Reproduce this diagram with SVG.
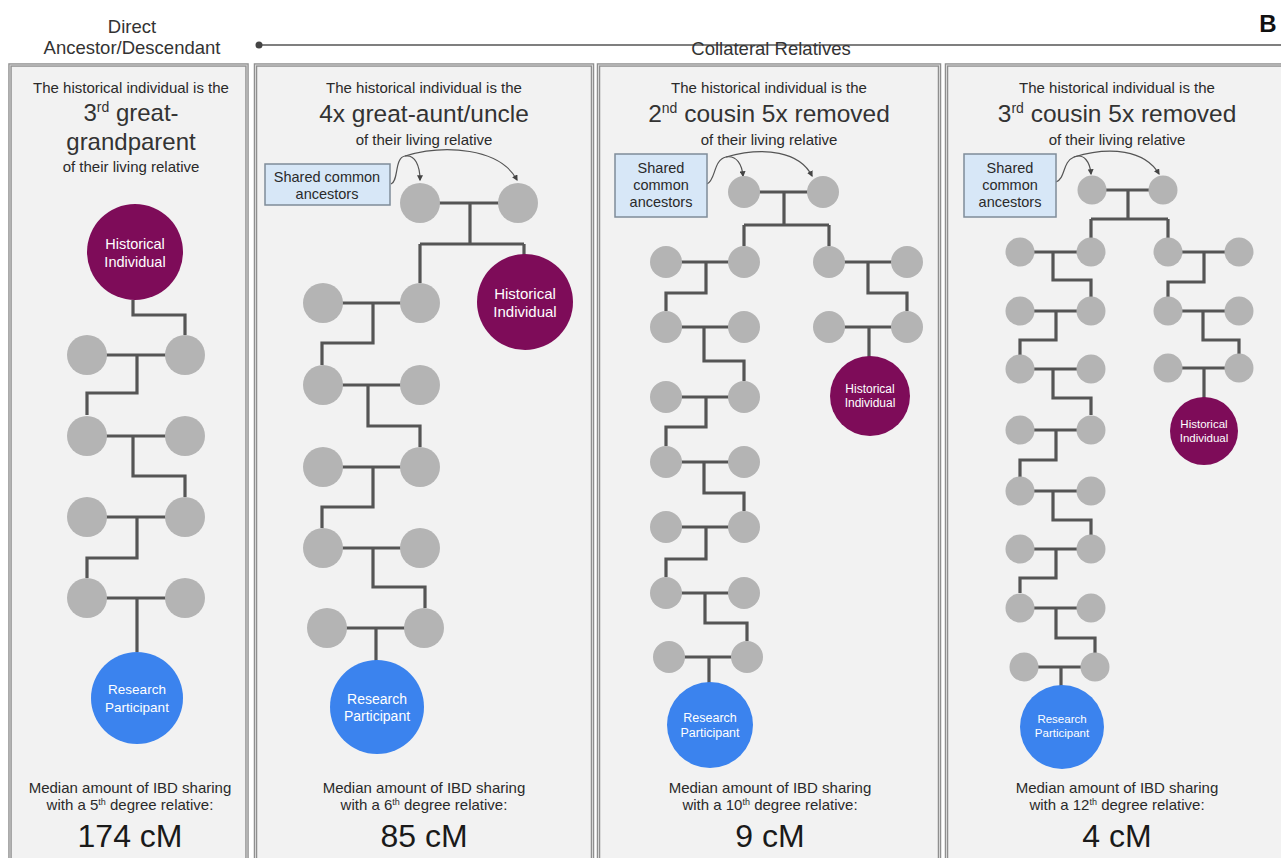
<svg xmlns="http://www.w3.org/2000/svg" width="1281" height="858" viewBox="0 0 1281 858">
<defs>
<marker id="arr" viewBox="0 0 10 10" refX="8" refY="5" markerWidth="5" markerHeight="5" orient="auto"><path d="M0,0 L10,5 L0,10 z" fill="#444"/></marker>
<style>
.panel{fill:#f2f2f2;stroke:#8f8f8f;stroke-width:3.5}
.panelin{fill:none;stroke:#d6d6d6;stroke-width:1}
.g{fill:#b4b4b4}
.hi{fill:#7e0c59}
.rp{fill:#3b83ee}
.ln{fill:none;stroke:#555;stroke-width:3.2}
.cur{fill:none;stroke:#555;stroke-width:1.2}
.box{fill:#d7e7f7;stroke:#7f8c99;stroke-width:1.5}
text{font-family:"Liberation Sans",Arial,sans-serif;fill:#2a2a2a;text-anchor:middle}
.sm{font-size:15px}
.big{font-size:24.5px;fill:#333}
.cm{font-size:32px;fill:#1a1a1a}
.hdr{font-size:18.5px;fill:#333}
.wt{fill:#fff}
</style>
</defs>
<rect width="1281" height="858" fill="#ffffff"/>

<g id="header">
<text class="hdr" x="132" y="33">Direct</text>
<text class="hdr" x="132" y="54">Ancestor/Descendant</text>
<line x1="259" y1="45" x2="1281" y2="45" stroke="#555" stroke-width="1.5"/>
<circle cx="259" cy="45" r="3.5" fill="#444"/>
<text class="hdr" x="771" y="55">Collateral Relatives</text>
<text x="1268" y="32" style="font-size:24px;font-weight:bold;fill:#111">B</text>
</g>

<g id="panels">
<rect class="panel" x="10" y="65" width="237" height="810"/>
<rect class="panelin" x="10" y="65" width="237" height="810"/>
<rect class="panel" x="255.5" y="65" width="337" height="810"/>
<rect class="panelin" x="255.5" y="65" width="337" height="810"/>
<rect class="panel" x="598.5" y="65" width="341" height="810"/>
<rect class="panelin" x="598.5" y="65" width="341" height="810"/>
<rect class="panel" x="946.5" y="65" width="350" height="810"/>
<rect class="panelin" x="946.5" y="65" width="350" height="810"/>
</g>

<g id="titles">
<text class="sm" x="131" y="93">The historical individual is the</text>
<text class="big" x="131" y="121" style="font-size:24px">3<tspan font-size="14" dy="-9">rd</tspan><tspan dy="9"> great-</tspan></text>
<text class="big" x="131" y="150" style="font-size:24px">grandparent</text>
<text class="sm" x="131" y="172">of their living relative</text>

<text class="sm" x="424" y="93">The historical individual is the</text>
<text class="big" x="424" y="122">4x great-aunt/uncle</text>
<text class="sm" x="424" y="145">of their living relative</text>

<text class="sm" x="769" y="93">The historical individual is the</text>
<text class="big" x="769" y="122">2<tspan font-size="14" dy="-9">nd</tspan><tspan dy="9"> cousin 5x removed</tspan></text>
<text class="sm" x="769" y="145">of their living relative</text>

<text class="sm" x="1117" y="93">The historical individual is the</text>
<text class="big" x="1117" y="122">3<tspan font-size="14" dy="-9">rd</tspan><tspan dy="9"> cousin 5x removed</tspan></text>
<text class="sm" x="1117" y="145">of their living relative</text>
</g>

<g id="footers">
<text class="sm" x="130" y="793">Median amount of IBD sharing</text>
<text class="sm" x="130" y="810">with a 5<tspan font-size="9" dy="-5">th</tspan><tspan dy="5"> degree relative:</tspan></text>
<text class="cm" x="130" y="847">174 cM</text>

<text class="sm" x="424" y="793">Median amount of IBD sharing</text>
<text class="sm" x="424" y="810">with a 6<tspan font-size="9" dy="-5">th</tspan><tspan dy="5"> degree relative:</tspan></text>
<text class="cm" x="424" y="847">85 cM</text>

<text class="sm" x="770" y="793">Median amount of IBD sharing</text>
<text class="sm" x="770" y="810">with a 10<tspan font-size="9" dy="-5">th</tspan><tspan dy="5"> degree relative:</tspan></text>
<text class="cm" x="770" y="847">9 cM</text>

<text class="sm" x="1117" y="793">Median amount of IBD sharing</text>
<text class="sm" x="1117" y="810">with a 12<tspan font-size="9" dy="-5">th</tspan><tspan dy="5"> degree relative:</tspan></text>
<text class="cm" x="1117" y="847">4 cM</text>
</g>

<g id="connectors">
<!-- panel 1 -->
<path class="ln" d="M133 300 V315 H185 V335"/>
<path class="ln" d="M87 355 H185 M137 355 V393 H87 V415"/>
<path class="ln" d="M87 436 H185 M133 436 V476 H185 V497"/>
<path class="ln" d="M87 517 H185 M137 517 V558 H87 V578"/>
<path class="ln" d="M87 598 H185 M137 598 V652"/>
<!-- panel 2 -->
<path class="ln" d="M420 203 H518 M470 203 V244 M420 244 H524 M420 244 V283 M524 244 V255"/>
<path class="ln" d="M323 303 H420 M373 303 V343 H322 V365"/>
<path class="ln" d="M323 385 H420 M368 385 V426 H420 V447"/>
<path class="ln" d="M323 467 H420 M373 467 V507 H322 V528"/>
<path class="ln" d="M323 548 H420 M373 548 V587 H425 V608"/>
<path class="ln" d="M327 628 H424 M376 628 V661"/>
<!-- panel 3 -->
<path class="ln" d="M744 192 H823 M784 192 V225 M744 225 H829 M744 225 V246 M829 225 V246"/>
<path class="ln" d="M666 262 H744 M706 262 V293 H666 V311"/>
<path class="ln" d="M666 327 H744 M704 327 V361 H744 V381"/>
<path class="ln" d="M666 397 H744 M706 397 V427 H666 V446"/>
<path class="ln" d="M666 462 H744 M704 462 V493 H744 V511"/>
<path class="ln" d="M666 527 H744 M706 527 V559 H666 V577"/>
<path class="ln" d="M666 593 H744 M705 593 V623 H747 V641"/>
<path class="ln" d="M669 657 H747 M709 657 V683"/>
<path class="ln" d="M829 262 H907 M868 262 V293 H907 V311"/>
<path class="ln" d="M829 327 H907 M869 327 V357"/>
<!-- panel 4 -->
<path class="ln" d="M1092 190 H1163 M1128 190 V219 M1091 219 H1168 M1091 219 V238 M1168 219 V238"/>
<path class="ln" d="M1020 252 H1091 M1053 252 V280 H1091 V297"/>
<path class="ln" d="M1020 311 H1091 M1056 311 V340 H1020 V355"/>
<path class="ln" d="M1020 369 H1091 M1053 369 V398 H1091 V415"/>
<path class="ln" d="M1020 430 H1091 M1056 430 V460 H1020 V477"/>
<path class="ln" d="M1020 491 H1091 M1053 491 V520 H1091 V535"/>
<path class="ln" d="M1020 549 H1091 M1056 549 V578 H1020 V593"/>
<path class="ln" d="M1020 608 H1091 M1056 608 V638 H1095 V653"/>
<path class="ln" d="M1024 667 H1095 M1061 667 V686"/>
<path class="ln" d="M1168 252 H1239 M1204 252 V282 H1168 V297"/>
<path class="ln" d="M1168 311 H1239 M1203 311 V340 H1239 V354"/>
<path class="ln" d="M1168 368 H1239 M1204 368 V398"/>
<!-- curved arrows -->
<path class="cur" d="M391 184 C399 181 394 158 405 156 C415 154 420 166 420 180" marker-end="url(#arr)"/>
<path class="cur" d="M405 156 C445 144 500 148 517 180" marker-end="url(#arr)"/>
<path class="cur" d="M707 184 C716 180 713 160 726 157 C737 155 742 165 743 176" marker-end="url(#arr)"/>
<path class="cur" d="M726 157 C765 146 800 152 812 176" marker-end="url(#arr)"/>
<path class="cur" d="M1056 182 C1066 178 1062 162 1074 157 C1084 153 1090 162 1091 174" marker-end="url(#arr)"/>
<path class="cur" d="M1074 157 C1110 146 1145 150 1159 174" marker-end="url(#arr)"/>
</g>

<g id="p1-nodes">
<g id="p1-historical"><circle class="hi" cx="135" cy="252" r="48"/><text class="wt" x="135" y="249" font-size="14.5">Historical</text><text class="wt" x="135" y="267" font-size="14.5">Individual</text></g>
<g id="p1-r1a"><circle class="g" cx="87" cy="355" r="20"/></g>
<g id="p1-r1b"><circle class="g" cx="185" cy="355" r="20"/></g>
<g id="p1-r2a"><circle class="g" cx="87" cy="436" r="20"/></g>
<g id="p1-r2b"><circle class="g" cx="185" cy="436" r="20"/></g>
<g id="p1-r3a"><circle class="g" cx="87" cy="517" r="20"/></g>
<g id="p1-r3b"><circle class="g" cx="185" cy="517" r="20"/></g>
<g id="p1-r4a"><circle class="g" cx="87" cy="598" r="20"/></g>
<g id="p1-r4b"><circle class="g" cx="185" cy="598" r="20"/></g>
<g id="p1-participant"><circle class="rp" cx="137" cy="698" r="46"/><text class="wt" x="137" y="694" font-size="13.5">Research</text><text class="wt" x="137" y="712" font-size="13.5">Participant</text></g>
</g>

<g id="p2-nodes">
<g id="p2-shared"><rect class="box" x="265" y="164" width="125" height="41"/><text x="327" y="182" font-size="14.5">Shared common</text><text x="327" y="199" font-size="14.5">ancestors</text></g>
<g id="p2-a1"><circle class="g" cx="420" cy="203" r="20"/></g>
<g id="p2-a2"><circle class="g" cx="518" cy="203" r="20"/></g>
<g id="p2-historical"><circle class="hi" cx="525" cy="302" r="48"/><text class="wt" x="525" y="299" font-size="15">Historical</text><text class="wt" x="525" y="317" font-size="15">Individual</text></g>
<g id="p2-r1a"><circle class="g" cx="323" cy="303" r="20"/></g>
<g id="p2-r1b"><circle class="g" cx="420" cy="303" r="20"/></g>
<g id="p2-r2a"><circle class="g" cx="323" cy="385" r="20"/></g>
<g id="p2-r2b"><circle class="g" cx="420" cy="385" r="20"/></g>
<g id="p2-r3a"><circle class="g" cx="323" cy="467" r="20"/></g>
<g id="p2-r3b"><circle class="g" cx="420" cy="467" r="20"/></g>
<g id="p2-r4a"><circle class="g" cx="323" cy="548" r="20"/></g>
<g id="p2-r4b"><circle class="g" cx="420" cy="548" r="20"/></g>
<g id="p2-r5a"><circle class="g" cx="327" cy="628" r="20"/></g>
<g id="p2-r5b"><circle class="g" cx="424" cy="628" r="20"/></g>
<g id="p2-participant"><circle class="rp" cx="377" cy="707" r="47"/><text class="wt" x="377" y="704" font-size="14">Research</text><text class="wt" x="377" y="721" font-size="14">Participant</text></g>
</g>

<g id="p3-nodes">
<g id="p3-shared"><rect class="box" x="615" y="154" width="92" height="63"/><text x="661" y="173" font-size="14.5">Shared</text><text x="661" y="190" font-size="14.5">common</text><text x="661" y="207" font-size="14.5">ancestors</text></g>
<g id="p3-a1"><circle class="g" cx="744" cy="192" r="16"/></g>
<g id="p3-a2"><circle class="g" cx="823" cy="192" r="16"/></g>
<g id="p3-l1a"><circle class="g" cx="666" cy="262" r="16"/></g>
<g id="p3-l1b"><circle class="g" cx="744" cy="262" r="16"/></g>
<g id="p3-l2a"><circle class="g" cx="666" cy="327" r="16"/></g>
<g id="p3-l2b"><circle class="g" cx="744" cy="327" r="16"/></g>
<g id="p3-l3a"><circle class="g" cx="666" cy="397" r="16"/></g>
<g id="p3-l3b"><circle class="g" cx="744" cy="397" r="16"/></g>
<g id="p3-l4a"><circle class="g" cx="666" cy="462" r="16"/></g>
<g id="p3-l4b"><circle class="g" cx="744" cy="462" r="16"/></g>
<g id="p3-l5a"><circle class="g" cx="666" cy="527" r="16"/></g>
<g id="p3-l5b"><circle class="g" cx="744" cy="527" r="16"/></g>
<g id="p3-l6a"><circle class="g" cx="666" cy="593" r="16"/></g>
<g id="p3-l6b"><circle class="g" cx="744" cy="593" r="16"/></g>
<g id="p3-l7a"><circle class="g" cx="669" cy="657" r="16"/></g>
<g id="p3-l7b"><circle class="g" cx="747" cy="657" r="16"/></g>
<g id="p3-r1a"><circle class="g" cx="829" cy="262" r="16"/></g>
<g id="p3-r1b"><circle class="g" cx="907" cy="262" r="16"/></g>
<g id="p3-r2a"><circle class="g" cx="829" cy="327" r="16"/></g>
<g id="p3-r2b"><circle class="g" cx="907" cy="327" r="16"/></g>
<g id="p3-historical"><circle class="hi" cx="870" cy="396" r="40"/><text class="wt" x="870" y="393" font-size="12">Historical</text><text class="wt" x="870" y="407" font-size="12">Individual</text></g>
<g id="p3-participant"><circle class="rp" cx="710" cy="725" r="43"/><text class="wt" x="710" y="722" font-size="12.5">Research</text><text class="wt" x="710" y="737" font-size="12.5">Participant</text></g>
</g>

<g id="p4-nodes">
<g id="p4-shared"><rect class="box" x="964" y="154" width="92" height="63"/><text x="1010" y="173" font-size="14.5">Shared</text><text x="1010" y="190" font-size="14.5">common</text><text x="1010" y="207" font-size="14.5">ancestors</text></g>
<g id="p4-a1"><circle class="g" cx="1092" cy="190" r="14.5"/></g>
<g id="p4-a2"><circle class="g" cx="1163" cy="190" r="14.5"/></g>
<g id="p4-l1a"><circle class="g" cx="1020" cy="252" r="14.5"/></g>
<g id="p4-l1b"><circle class="g" cx="1091" cy="252" r="14.5"/></g>
<g id="p4-l2a"><circle class="g" cx="1020" cy="311" r="14.5"/></g>
<g id="p4-l2b"><circle class="g" cx="1091" cy="311" r="14.5"/></g>
<g id="p4-l3a"><circle class="g" cx="1020" cy="369" r="14.5"/></g>
<g id="p4-l3b"><circle class="g" cx="1091" cy="369" r="14.5"/></g>
<g id="p4-l4a"><circle class="g" cx="1020" cy="430" r="14.5"/></g>
<g id="p4-l4b"><circle class="g" cx="1091" cy="430" r="14.5"/></g>
<g id="p4-l5a"><circle class="g" cx="1020" cy="491" r="14.5"/></g>
<g id="p4-l5b"><circle class="g" cx="1091" cy="491" r="14.5"/></g>
<g id="p4-l6a"><circle class="g" cx="1020" cy="549" r="14.5"/></g>
<g id="p4-l6b"><circle class="g" cx="1091" cy="549" r="14.5"/></g>
<g id="p4-l7a"><circle class="g" cx="1020" cy="608" r="14.5"/></g>
<g id="p4-l7b"><circle class="g" cx="1091" cy="608" r="14.5"/></g>
<g id="p4-l8a"><circle class="g" cx="1024" cy="667" r="14.5"/></g>
<g id="p4-l8b"><circle class="g" cx="1095" cy="667" r="14.5"/></g>
<g id="p4-r1a"><circle class="g" cx="1168" cy="252" r="14.5"/></g>
<g id="p4-r1b"><circle class="g" cx="1239" cy="252" r="14.5"/></g>
<g id="p4-r2a"><circle class="g" cx="1168" cy="311" r="14.5"/></g>
<g id="p4-r2b"><circle class="g" cx="1239" cy="311" r="14.5"/></g>
<g id="p4-r3a"><circle class="g" cx="1168" cy="368" r="14.5"/></g>
<g id="p4-r3b"><circle class="g" cx="1239" cy="368" r="14.5"/></g>
<g id="p4-historical"><circle class="hi" cx="1204" cy="431" r="34"/><text class="wt" x="1204" y="428" font-size="11.5">Historical</text><text class="wt" x="1204" y="442" font-size="11.5">Individual</text></g>
<g id="p4-participant"><circle class="rp" cx="1062" cy="727" r="42"/><text class="wt" x="1062" y="723" font-size="11.5">Research</text><text class="wt" x="1062" y="737" font-size="11.5">Participant</text></g>
</g>
</svg>
